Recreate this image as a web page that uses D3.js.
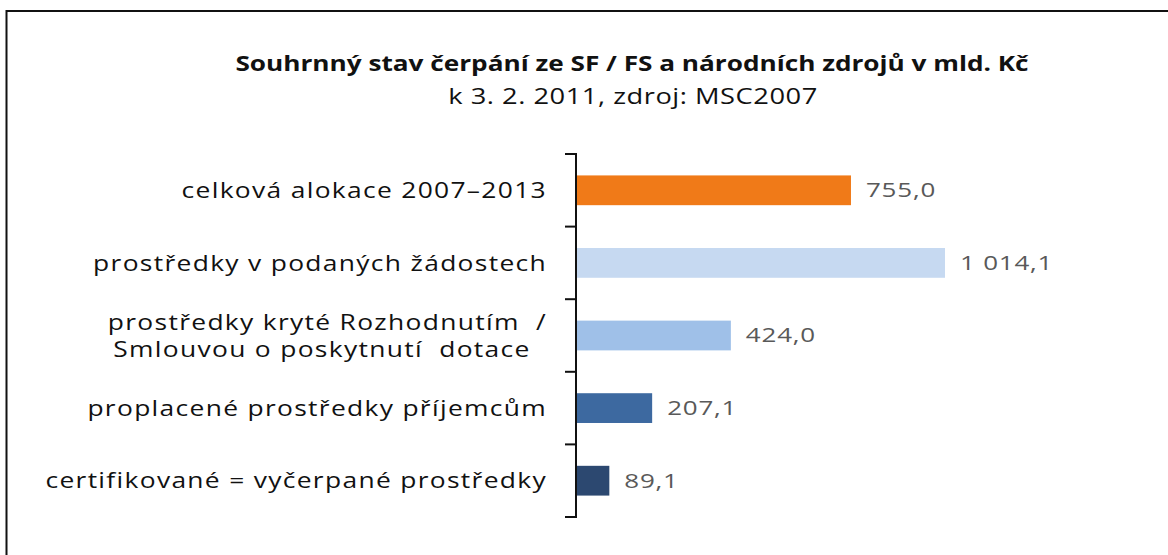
<!DOCTYPE html>
<html>
<head>
<meta charset="utf-8">
<script src="https://cdn.jsdelivr.net/npm/d3@7"></script>
<style>
  html, body { margin: 0; padding: 0; background: #fff; }
  svg { display: block; }
</style>
</head>
<body>
<svg id="chart" width="1168" height="555"></svg>
<script>
const categories = [
  "celková alokace 2007–2013",
  "prostředky v podaných žádostech",
  "prostředky kryté Rozhodnutím  /\nSmlouvou o poskytnutí  dotace\u00a0\u00a0",
  "proplacené prostředky příjemcům",
  "certifikované = vyčerpané prostředky"
];
const values = [755.0, 1014.1, 424.0, 207.1, 89.1];
const valueLabels = ["755,0", "1 014,1", "424,0", "207,1", "89,1"];
const colors = ["#F07A18", "#C6D9F1", "#9FC0E8", "#3D69A0", "#2C4870"];
const title = "Souhrnný stav čerpání ze SF / FS a národních zdrojů v mld. Kč";
const subtitle = "k 3. 2. 2011, zdroj: MSC2007";

const svg = d3.select("#chart");
const stretch = (sx, ax) => `translate(${ax},0) scale(${sx},1) translate(${-ax},0)`;

// outer frame (extends beyond the viewport on right and bottom)
svg.append("rect")
  .attr("x", 6.5).attr("y", 11).attr("width", 1200).attr("height", 600)
  .attr("fill", "none").attr("stroke", "#111").attr("stroke-width", 2);

svg.append("text")
  .attr("x", 632).attr("y", 71)
  .attr("text-anchor", "middle")
  .attr("transform", stretch(1.19, 632))
  .attr("font-family", "Open Sans, sans-serif")
  .attr("font-weight", "bold")
  .attr("font-size", 22)
  .attr("fill", "#111")
  .text(title);

svg.append("text")
  .attr("x", 633).attr("y", 104)
  .attr("text-anchor", "middle")
  .attr("transform", stretch(1.3, 633))
  .attr("font-family", "Open Sans, sans-serif")
  .attr("font-size", 21)
  .attr("letter-spacing", 0.4)
  .attr("fill", "#111")
  .text(subtitle);

const x0 = 576;
const x = d3.scaleLinear().domain([0, 1014.1]).range([x0 + 1, 945]);
const y = d3.scaleBand().domain(d3.range(categories.length)).range([154, 517]).paddingInner(0.59).paddingOuter(0.295);

// axis line with ticks at band boundaries
const boundaries = d3.range(categories.length + 1).map(i => 154 + i * (363 / categories.length));
const axisG = svg.append("g");
axisG.append("line")
  .attr("x1", x0).attr("x2", x0).attr("y1", 154).attr("y2", 517)
  .attr("stroke", "#111").attr("stroke-width", 2);
axisG.selectAll("line.tick").data(boundaries).join("line")
  .attr("class", "tick")
  .attr("x1", x0 - 11).attr("x2", x0 + 1)
  .attr("y1", d => d).attr("y2", d => d)
  .attr("stroke", "#111").attr("stroke-width", 2);

// bars
svg.selectAll("rect.bar").data(values).join("rect")
  .attr("class", "bar")
  .attr("x", x(0))
  .attr("y", (d, i) => y(i))
  .attr("width", d => x(d) - x(0))
  .attr("height", y.bandwidth())
  .attr("fill", (d, i) => colors[i]);

// value labels
svg.selectAll("text.val").data(values).join("text")
  .attr("class", "val")
  .attr("x", d => x(d) + 15)
  .attr("y", (d, i) => y(i) + y.bandwidth() / 2)
  .attr("dy", "0.35em")
  .attr("transform", d => stretch(1.3, x(d) + 15))
  .attr("font-family", "Open Sans, sans-serif")
  .attr("font-size", 20)
  .attr("letter-spacing", 0.6)
  .attr("fill", "#595959")
  .text((d, i) => valueLabels[i]);

// category labels
const catG = svg.selectAll("text.cat").data(categories).join("text")
  .attr("class", "cat")
  .attr("text-anchor", "end")
  .attr("transform", stretch(1.2, 547))
  .attr("font-family", "Open Sans, sans-serif")
  .attr("font-size", 22)
  .attr("letter-spacing", 1.1)
  .attr("fill", "#111")
  .attr("y", (d, i) => y(i) + y.bandwidth() / 2);
catG.each(function(d) {
  const lines = d.split("\n");
  const t = d3.select(this);
  lines.forEach((ln, j) => {
    t.append("tspan")
      .attr("x", 547)
      .attr("dy", j === 0 ? (0.35 - (lines.length - 1) * 0.62) + "em" : "1.24em")
      .attr("xml:space", "preserve")
      .text(ln);
  });
});
</script>
</body>
</html>
